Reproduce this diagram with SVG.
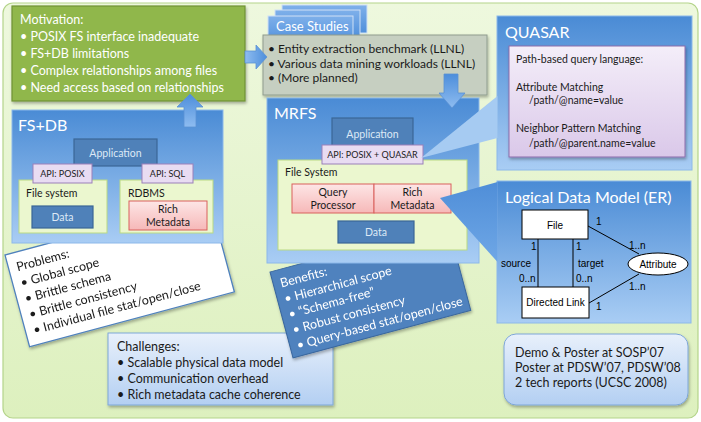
<svg xmlns="http://www.w3.org/2000/svg" width="701" height="422" viewBox="0 0 701 422">
<defs>
<linearGradient id="gBlue" x1="0" y1="0" x2="0" y2="1"><stop offset="0" stop-color="#4a8bd5"/><stop offset="1" stop-color="#a9cdf4"/></linearGradient>
<linearGradient id="gBg" x1="0" y1="0" x2="0" y2="1"><stop offset="0" stop-color="#eef8de"/><stop offset="1" stop-color="#ddf0be"/></linearGradient>
<linearGradient id="gPink" x1="0" y1="0" x2="0" y2="1"><stop offset="0" stop-color="#fde6e6"/><stop offset="1" stop-color="#f6b8b8"/></linearGradient>
<linearGradient id="gPurple" x1="0" y1="0" x2="0" y2="1"><stop offset="0" stop-color="#f4eef9"/><stop offset="1" stop-color="#dac8e9"/></linearGradient>
<linearGradient id="gLight" x1="0" y1="0" x2="0" y2="1"><stop offset="0" stop-color="#e8f0fb"/><stop offset="1" stop-color="#b3cff2"/></linearGradient>
<linearGradient id="gTab" x1="0" y1="0" x2="0" y2="1"><stop offset="0" stop-color="#7fb0ea"/><stop offset="1" stop-color="#4f8fdb"/></linearGradient>
<linearGradient id="gArrV" x1="0" y1="0" x2="0" y2="1"><stop offset="0" stop-color="#4d8edb"/><stop offset="1" stop-color="#8ebcf0"/></linearGradient>
<linearGradient id="gArrH" x1="0" y1="0" x2="1" y2="0"><stop offset="0" stop-color="#8ebcf0"/><stop offset="1" stop-color="#4d8edb"/></linearGradient>
<linearGradient id="gWedge" x1="0" y1="0" x2="0" y2="1"><stop offset="0" stop-color="#4f8ed8"/><stop offset="1" stop-color="#6fa7e6"/></linearGradient>
<filter id="sh" x="-10%" y="-10%" width="130%" height="130%"><feDropShadow dx="1" dy="2" stdDeviation="1.5" flood-color="#000" flood-opacity="0.3"/></filter>
</defs>
<style>
.t{font-family:Lato,"Open Sans","DejaVu Sans",sans-serif}
.w{fill:#fff}
.d{fill:#1a1a1a}
.title{font-size:16px;fill:#fff}
.big{font-size:12.5px}
.sm{font-size:10.5px}
.api{font-size:9px;fill:#222}
.er{font-family:"Liberation Sans",Arial,sans-serif;font-size:10px;fill:#000}
.panel{fill:url(#gBlue);stroke:#8cb8ea;stroke-width:1}
.app{fill:#4f81b9;stroke:#3b6796;stroke-width:1.2}
.apiBox{fill:#e8dcf2;stroke:#9b80b9;stroke-width:1}
.fs{fill:#ebf7cf;stroke:#b9d983;stroke-width:1}
.pink{fill:url(#gPink);stroke:#d9605c;stroke-width:1}
.arr{stroke:#5c92d4;stroke-width:0.8}
</style>

<rect x="3" y="3" width="695" height="415" rx="10" fill="url(#gBg)" stroke="#b4d48a" stroke-width="1.2"/>

<g id="problems" filter="url(#sh)">
<g transform="translate(5,255) rotate(-15)">
<rect x="0" y="0" width="212" height="95" fill="#fff" stroke="#4f81bd" stroke-width="1.3"/>
<text class="t big d" x="8" y="19">Problems:</text>
<text class="t big d" x="8" y="35.3">• Global scope</text>
<text class="t big d" x="8" y="51.6">• Brittle schema</text>
<text class="t big d" x="8" y="67.9">• Brittle consistency</text>
<text class="t big d" x="8" y="84.2">• Individual file stat/open/close</text>
</g>
</g>

<g id="challenges">
<rect x="108" y="333" width="225" height="72" fill="url(#gLight)" stroke="#7fa7d7" stroke-width="1" filter="url(#sh)"/>
<text class="t big d" x="117" y="351">Challenges:</text>
<text class="t big d" x="117" y="367">• Scalable physical data model</text>
<text class="t big d" x="117" y="383">• Communication overhead</text>
<text class="t big d" x="117" y="399">• Rich metadata cache coherence</text>
</g>

<g id="benefits" filter="url(#sh)">
<g transform="translate(270,272) rotate(-15)">
<rect x="0" y="0" width="184" height="89" fill="#4f82be" stroke="#3a679e" stroke-width="1"/>
<text class="t big w" x="7" y="18">Benefits:</text>
<text class="t big w" x="7" y="34">• Hierarchical scope</text>
<text class="t big w" x="7" y="50">• “Schema-free”</text>
<text class="t big w" x="7" y="66">• Robust consistency</text>
<text class="t big w" x="7" y="82">• Query-based stat/open/close</text>
</g>
</g>

<g id="motivation">
<rect x="12" y="6" width="233" height="95" fill="#90b74c" stroke="#6f9236" stroke-width="1.2" filter="url(#sh)"/>
<text class="t big w" x="20" y="24">Motivation:</text>
<text class="t big w" x="20" y="41">• POSIX FS interface inadequate</text>
<text class="t big w" x="20" y="58">• FS+DB limitations</text>
<text class="t big w" x="20" y="75">• Complex relationships among files</text>
<text class="t big w" x="20" y="92">• Need access based on relationships</text>
</g>

<g id="fsdb">
<rect class="panel" x="12" y="110" width="211" height="133"/>
<text class="t title" x="18" y="131">FS+DB</text>
<rect class="app" x="74" y="139" width="83" height="27"/>
<text class="t sm" x="115.5" y="157" text-anchor="middle" fill="#dde9f6">Application</text>
<rect class="fs" x="19" y="180" width="88" height="53"/>
<text class="t sm d" x="26" y="197">File system</text>
<rect class="app" x="32" y="206" width="61" height="22"/>
<text class="t sm" x="62.5" y="221" text-anchor="middle" fill="#dde9f6">Data</text>
<rect class="fs" x="120" y="180" width="93" height="53"/>
<text class="t sm d" x="128" y="197">RDBMS</text>
<rect class="pink" x="129" y="201" width="78" height="29"/>
<text class="t sm d" x="168" y="213" text-anchor="middle">Rich</text>
<text class="t sm d" x="168" y="226" text-anchor="middle">Metadata</text>
<rect class="apiBox" x="33" y="164" width="59" height="19"/>
<text class="t api" x="62.5" y="177" text-anchor="middle">API: POSIX</text>
<rect class="apiBox" x="142" y="164" width="51" height="19"/>
<text class="t api" x="167.5" y="177" text-anchor="middle">API: SQL</text>
</g>

<g id="casestudies">
<rect x="282" y="5" width="85" height="28" fill="url(#gTab)" stroke="#cfe0f5" stroke-width="1"/>
<rect x="275" y="10" width="85" height="28" fill="url(#gTab)" stroke="#cfe0f5" stroke-width="1"/>
<rect x="268" y="16" width="85" height="28" fill="url(#gTab)" stroke="#cfe0f5" stroke-width="1"/>
<text class="t" x="276" y="31" font-size="13" fill="#fff">Case Studies</text>
<rect x="263" y="35" width="224" height="60" fill="#c6cfc1" stroke="#8f9c8e" stroke-width="1" filter="url(#sh)"/>
<text class="t d" x="268" y="53" font-size="12">• Entity extraction benchmark (LLNL)</text>
<text class="t d" x="268" y="67.5" font-size="12">• Various data mining workloads (LLNL)</text>
<text class="t d" x="268" y="82" font-size="12">• (More planned)</text>
</g>

<g id="quasar">
<rect class="panel" x="497" y="16" width="195" height="154"/>
<text class="t title" x="505" y="38">QUASAR</text>
<rect x="509" y="46" width="176" height="111" fill="url(#gPurple)" stroke="#8c6cab" stroke-width="1" filter="url(#sh)"/>
<text class="t sm d" x="516" y="63">Path-based query language:</text>
<text class="t sm d" x="516" y="91">Attribute Matching</text>
<text class="t sm d" x="529" y="104">/path/@name=value</text>
<text class="t sm d" x="516" y="132">Neighbor Pattern Matching</text>
<text class="t sm d" x="529" y="147">/path/@parent.name=value</text>
</g>

<g id="ldm">
<rect class="panel" x="497" y="181" width="194" height="142"/>
<text class="t title" x="505" y="203">Logical Data Model (ER)</text>
<rect x="522" y="210" width="66" height="29" fill="#fff" stroke="#000" stroke-width="1"/>
<text class="er" x="555" y="229" text-anchor="middle">File</text>
<rect x="522" y="287" width="67" height="31" fill="#fff" stroke="#000" stroke-width="1"/>
<text class="er" x="555.5" y="306" text-anchor="middle">Directed Link</text>
<ellipse cx="658" cy="264" rx="30" ry="11" fill="#fff" stroke="#000" stroke-width="1"/>
<text class="er" x="658" y="268" text-anchor="middle">Attribute</text>
</g>

<g id="mrfs">
<rect class="panel" x="267" y="98" width="212" height="165"/>
<text class="t title" x="274" y="119">MRFS</text>
<rect class="app" x="332" y="118" width="81" height="29"/>
<text class="t sm" x="372.5" y="138" text-anchor="middle" fill="#dde9f6">Application</text>
<rect class="fs" x="278" y="160" width="189" height="90"/>
<text class="t sm d" x="285" y="176">File System</text>
<rect class="pink" x="292" y="184" width="82" height="29"/>
<text class="t sm d" x="333" y="196" text-anchor="middle">Query</text>
<text class="t sm d" x="333" y="209" text-anchor="middle">Processor</text>
<rect class="pink" x="374" y="184" width="77" height="29"/>
<text class="t sm d" x="412.5" y="196" text-anchor="middle">Rich</text>
<text class="t sm d" x="412.5" y="209" text-anchor="middle">Metadata</text>
<rect class="app" x="338" y="221" width="76" height="22"/>
<text class="t sm" x="376" y="236" text-anchor="middle" fill="#dde9f6">Data</text>
<rect class="apiBox" x="322" y="145" width="101" height="19"/>
<text class="t api" x="372.5" y="158" text-anchor="middle">API: POSIX + QUASAR</text>
</g>

<g id="demo">
<rect x="504" y="334" width="184" height="71" rx="12" fill="url(#gLight)" stroke="#7ea6d8" stroke-width="1" filter="url(#sh)"/>
<text class="t big d" x="515" y="357">Demo &amp; Poster at SOSP’07</text>
<text class="t big d" x="515" y="372">Poster at PDSW’07, PDSW’08</text>
<text class="t big d" x="515" y="387">2 tech reports (UCSC 2008)</text>
</g>

<g id="connectors">
<polygon points="245,51 256,51 256,45 267,57 256,69 256,63 245,63" fill="url(#gArrH)" class="arr"/>
<polygon points="184,127 184,107 177,107 190,94 203,107 196,107 196,127" fill="url(#gArrV)" class="arr"/>
<polygon points="444,74 458,74 458,93 465,93 452,108 439,93 444,93" fill="url(#gArrV)" class="arr"/>
<polygon points="497.5,96 421,158 497.5,138" fill="#a6cbf2"/>
<polygon points="497.5,182 440,198 497.5,262" fill="url(#gWedge)"/>
<g stroke="#000" stroke-width="1" fill="none">
<line x1="538" y1="239" x2="538" y2="287"/>
<line x1="573" y1="239" x2="573" y2="287"/>
<line x1="588" y1="226" x2="639" y2="254"/>
<line x1="589" y1="303" x2="639" y2="274"/>
</g>
<text class="er" x="596" y="225">1</text>
<text class="er" x="629" y="249">1..n</text>
<text class="er" x="531" y="250">1</text>
<text class="er" x="576" y="250">1</text>
<text class="er" x="501" y="267">source</text>
<text class="er" x="578" y="267">target</text>
<text class="er" x="519" y="282">0..n</text>
<text class="er" x="576" y="282">0..n</text>
<text class="er" x="629" y="290">1..n</text>
<text class="er" x="596" y="310">1</text>
</g>
</svg>
